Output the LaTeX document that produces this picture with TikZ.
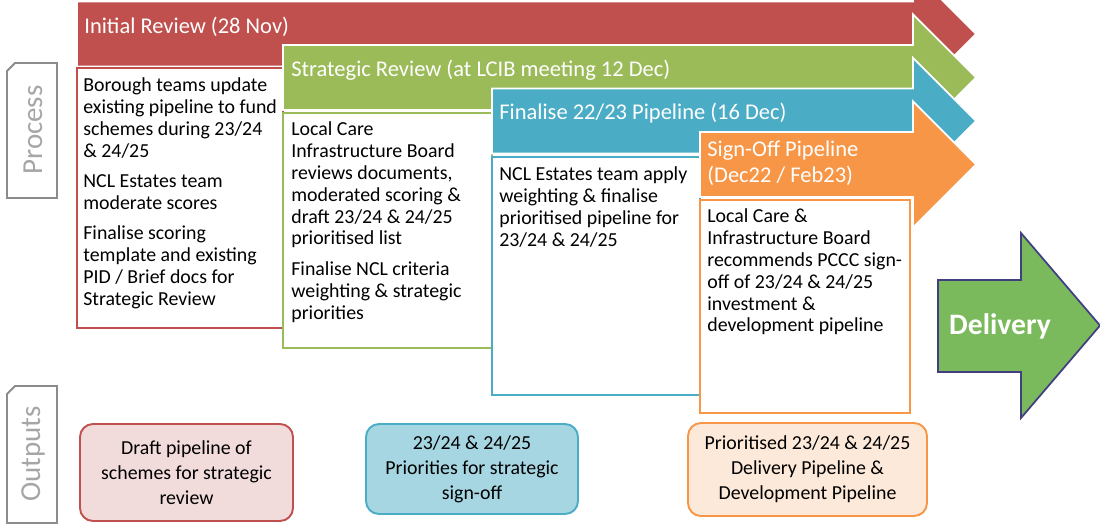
\documentclass[tikz,border=0pt]{standalone}
\usepackage{fontspec}
\setmainfont{Carlito}
\usepackage{tikz}
\usetikzlibrary{calc}
\definecolor{redband}{HTML}{C0504D}
\definecolor{greenband}{HTML}{9BBB59}
\definecolor{blueband}{HTML}{4BACC6}
\definecolor{orangeband}{HTML}{F79646}
\definecolor{redlight}{HTML}{F2DCDB}
\definecolor{bluelight}{HTML}{A7D6E3}
\definecolor{orangelight}{HTML}{FDE9D9}
\definecolor{deliverygreen}{HTML}{7BBA5C}
\definecolor{deliveryedge}{HTML}{413F80}
\definecolor{labelgray}{HTML}{8C8C8C}
\definecolor{labeltext}{HTML}{A6A6A6}
% stage arrow: left end and centre height, head always ends at the same place
\def\stagearrow[#1](#2:#3){\draw[#1] (#2,#3+0.65) -- (18.26,#3+0.65) -- (18.26,#3+1.26) -- (19.52,#3) -- (18.26,#3-1.26) -- (18.26,#3-0.65) -- (#2,#3-0.65) -- cycle;}
% side tab with a snipped corner
\def\sidetab[#1](#2:#3){\draw[#1] (0.14,#2) -- (0.14,#3-0.16) -- (0.30,#3) -- (1.14,#3) -- (1.14,#2) -- cycle;}
\tikzset{
	bandlabel/.style={text=white, anchor=west, inner sep=0pt, font=\fontsize{12.8}{14.8}\selectfont},
	steptext/.style={anchor=north west, align=left, inner sep=0pt, font=\fontsize{11.3}{12.5}\selectfont},
	outtext/.style={align=center, inner sep=0pt, font=\fontsize{11.3}{14.2}\selectfont},
	tabtext/.style={text=labeltext, rotate=90, inner sep=0pt, font=\fontsize{16.5}{18}\selectfont}
}

\begin{document}
\begin{tikzpicture}
			%%%%% START %%%%%
			\clip (0, 0) rectangle (22, 10.5);
			
			% side tabs
			\sidetab[draw=labelgray, line width=1.1pt, fill=white](6.54:9.24);
			\node[tabtext] (process) at (0.66, 7.9) {Process};
			\sidetab[draw=labelgray, line width=1.1pt, fill=white](0.04:2.78);
			\node[tabtext] (outputs) at (0.66, 1.42) {Outputs};
			
			% initial review
			\stagearrow[fill=redband, draw=white, line width=1pt](1.54:9.82);
			\node[bandlabel] (initial) at (1.68, 9.97) {Initial Review (28 Nov)};
			\draw[fill=white, draw=redband, line width=1.1pt] (1.54, 9.14) rectangle (5.66, 3.94);
			\node[steptext] (borough) at (1.66, 8.96) {Borough teams update\\existing pipeline to fund\\schemes during 23/24\\\& 24/25\\[4.6pt]NCL Estates team\\moderate scores\\[4.6pt]Finalise scoring\\template and existing\\PID / Brief docs for\\Strategic Review};
			
			% strategic review
			\stagearrow[fill=greenband, draw=white, line width=1pt](5.66:8.95);
			\node[bandlabel] (strategic) at (5.82, 9.09) {Strategic Review (at LCIB meeting 12 Dec)};
			\draw[fill=white, draw=greenband, line width=1.1pt] (5.66, 8.24) rectangle (9.84, 3.54);
			\node[steptext] (lcib) at (5.82, 8.08) {Local Care\\Infrastructure Board\\reviews documents,\\moderated scoring \&\\draft 23/24 \& 24/25\\prioritised list\\[4.8pt]Finalise NCL criteria\\weighting \& strategic\\priorities};
			
			% finalise
			\stagearrow[fill=blueband, draw=white, line width=1pt](9.84:8.08);
			\node[bandlabel] (finalise) at (9.98, 8.23) {Finalise 22/23 Pipeline (16 Dec)};
			\draw[fill=white, draw=blueband, line width=1.1pt] (9.84, 7.36) rectangle (14.0, 2.6);
			\node[steptext] (estates) at (9.98, 7.18) {NCL Estates team apply\\weighting \& finalise\\prioritised pipeline for\\23/24 \& 24/25};
			
			% sign-off
			\stagearrow[fill=orangeband, draw=white, line width=1pt](14.0:7.21);
			\node[bandlabel, anchor=north west, align=left] (signoff) at (14.14, 7.68) {Sign-Off Pipeline\\(Dec22 / Feb23)};
			\draw[fill=white, draw=orangeband, line width=1.1pt] (14.0, 6.5) rectangle (18.2, 2.24);
			\node[steptext] (pccc) at (14.14, 6.34) {Local Care \&\\Infrastructure Board\\recommends PCCC sign-\\off of 23/24 \& 24/25\\investment \&\\development pipeline};
			
			% delivery
			\draw[fill=deliverygreen, draw=deliveryedge, line width=1pt] (18.76, 4.9) -- (20.42, 4.9) -- (20.42, 5.84) -- (22.0, 3.99) -- (20.42, 2.14) -- (20.42, 3.06) -- (18.76, 3.06) -- cycle;
			\node[text=white, font=\fontsize{16.9}{18}\selectfont\bfseries] (delivery) at (20.0, 3.97) {Delivery};
			
			% outputs
			\draw[fill=redlight, draw=redband, line width=1.1pt, rounded corners=0.26cm] (1.6, 2.02) rectangle (5.86, 0.08);
			\node[outtext] (draft) at (3.73, 1.05) {Draft pipeline of\\schemes for strategic\\review};
			\draw[fill=bluelight, draw=blueband, line width=1.1pt, rounded corners=0.26cm] (7.32, 2.02) rectangle (11.56, 0.22);
			\node[outtext] (priorities) at (9.44, 1.12) {23/24 \& 24/25\\Priorities for strategic\\sign-off};
			\draw[fill=orangelight, draw=orangeband, line width=1.1pt, rounded corners=0.26cm] (13.76, 2.04) rectangle (18.54, 0.18);
			\node[outtext] (prioritised) at (16.15, 1.11) {Prioritised 23/24 \& 24/25\\Delivery Pipeline \&\\Development Pipeline};
			%%%%% END %%%%%
		\end{tikzpicture}
\end{document}
